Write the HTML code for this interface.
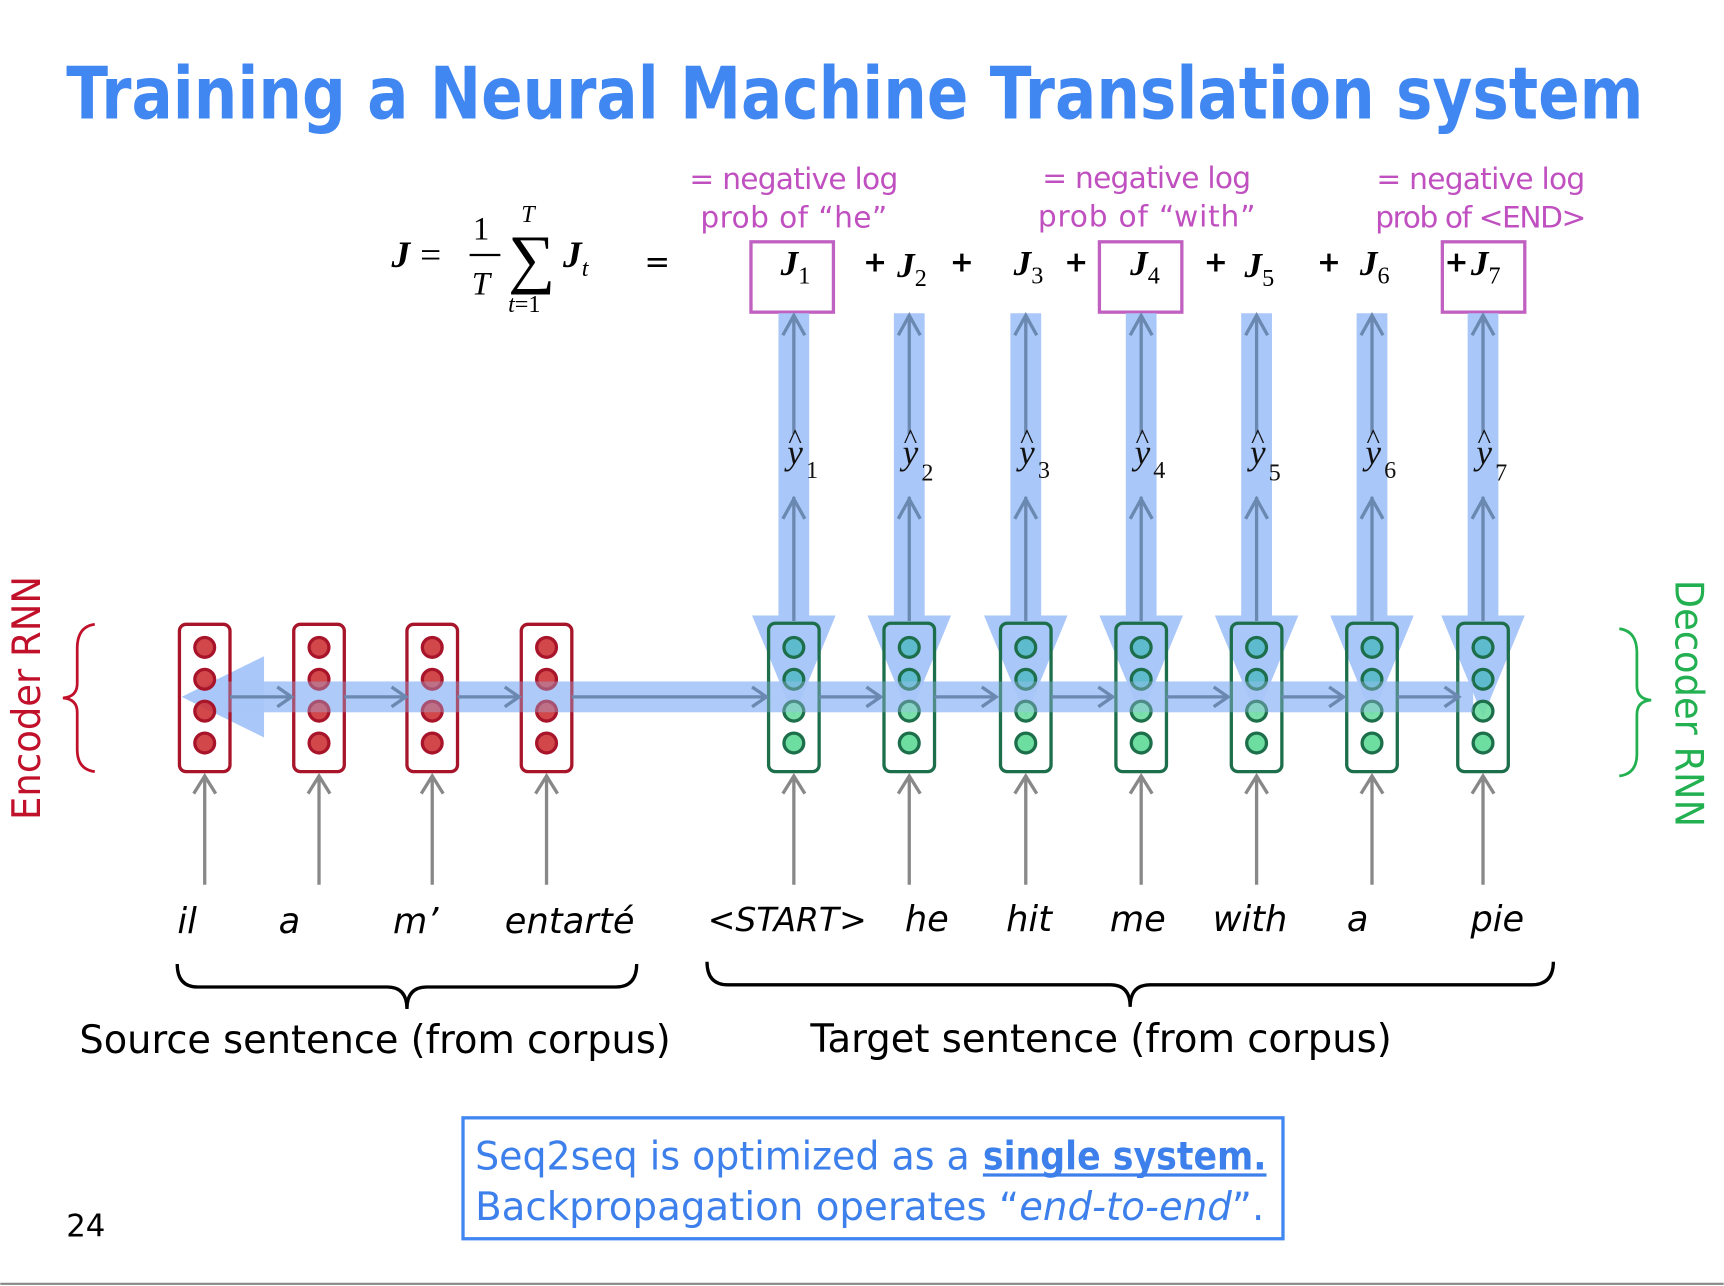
<!DOCTYPE html>
<html><head><meta charset="utf-8"><style>
html,body{margin:0;padding:0;background:#fff;}
svg{display:block;}
.m{font-family:"Liberation Serif",serif;}
.s{font-family:"DejaVu Sans","Liberation Sans",sans-serif;}
</style></head><body>
<svg width="1724" height="1286" viewBox="0 0 1568 1170" xmlns="http://www.w3.org/2000/svg">
<text x="60" y="108" font-family="'DejaVu Sans','Liberation Sans',sans-serif" font-weight="bold" font-size="66" fill="#4187f2" textLength="1435" lengthAdjust="spacingAndGlyphs">Training a Neural Machine Translation system</text>

<g class="m" font-size="34" fill="#000">
<text x="356" y="243" font-style="italic" font-weight="bold">J</text>
<text x="382" y="243">=</text>
<text x="430" y="218" font-size="30">1</text>
<line x1="427" y1="232" x2="455" y2="232" stroke="#000" stroke-width="2"/>
<text x="429" y="268" font-style="italic" font-size="30">T</text>
<text x="462" y="255" font-size="60">∑</text>
<text x="474" y="202" font-style="italic" font-size="22">T</text>
<text x="462" y="284" font-size="22"><tspan font-style="italic">t</tspan>=1</text>
<text x="512" y="243" font-style="italic" font-weight="bold">J<tspan font-size="22" dy="8" font-weight="normal">t</tspan></text>
<text x="586" y="248" class="s" font-size="28">=</text>
</g>
<g fill="none" stroke="#c060c0" stroke-width="3">
<rect x="683" y="220" width="75" height="64"/>
<rect x="1000" y="220" width="75" height="64"/>
<rect x="1312" y="220" width="75" height="64"/>
</g>
<g class="m" font-size="32" font-style="italic" font-weight="bold">
<text x="710" y="250">J<tspan font-size="22" dy="8" font-style="normal" font-weight="normal">1</tspan></text>
<text x="816" y="252">J<tspan font-size="22" dy="8" font-style="normal" font-weight="normal">2</tspan></text>
<text x="922" y="250">J<tspan font-size="22" dy="8" font-style="normal" font-weight="normal">3</tspan></text>
<text x="1028" y="250">J<tspan font-size="22" dy="8" font-style="normal" font-weight="normal">4</tspan></text>
<text x="1132" y="252">J<tspan font-size="22" dy="8" font-style="normal" font-weight="normal">5</tspan></text>
<text x="1237" y="250">J<tspan font-size="22" dy="8" font-style="normal" font-weight="normal">6</tspan></text>
<text x="1338" y="250">J<tspan font-size="22" dy="8" font-style="normal" font-weight="normal">7</tspan></text>
</g>
<g class="s" font-size="26" font-weight="bold">
<text x="785" y="247">+</text><text x="864" y="247">+</text><text x="968" y="247">+</text>
<text x="1095" y="247">+</text><text x="1198" y="247">+</text><text x="1314" y="247">+</text>
</g>
<g class="s" font-size="27" fill="#c050c0" text-anchor="middle">
<text x="722" y="172" textLength="190">= negative log</text><text x="722" y="207" textLength="170">prob of “he”</text>
<text x="1043" y="171" textLength="190">= negative log</text><text x="1043" y="206" textLength="198">prob of “with”</text>
<text x="1347" y="172" textLength="190">= negative log</text><text x="1347" y="207" textLength="192">prob of &lt;END&gt;</text>
</g>

<rect x="205" y="620" width="1135" height="28" fill="#a9c7f8" opacity="0.9"/>
<polygon points="165,634 240,597 240,671" fill="#a9c7f8"/>

<g fill="#a9c7f8">
<g id="vb">
<rect x="708" y="285" width="28" height="278"/><polygon points="684,560 760,560 722,652"/>
</g>
<use href="#vb" x="105"/><use href="#vb" x="211"/><use href="#vb" x="316"/><use href="#vb" x="421"/><use href="#vb" x="526"/><use href="#vb" x="627"/>
</g>

<g stroke="#a8142a" stroke-width="3">
<g id="ec">
<rect x="163" y="568" width="46" height="134" rx="6" fill="none"/>
<g fill="#cc3336" fill-opacity="0.9"><circle cx="186" cy="589" r="9"/><circle cx="186" cy="618" r="9"/><circle cx="186" cy="647" r="9"/><circle cx="186" cy="676" r="9"/></g>
</g>
<use href="#ec" x="104"/><use href="#ec" x="207"/><use href="#ec" x="311"/>
</g>
<g stroke="#1d6e4a" stroke-width="3">
<g id="dc">
<rect x="699" y="567" width="46" height="135" rx="6" fill="none"/>
<circle cx="722" cy="589" r="9" fill="#55b8c8" fill-opacity="0.9"/><circle cx="722" cy="618" r="9" fill="#55b8c8" fill-opacity="0.9"/>
<circle cx="722" cy="647" r="9" fill="#6ddda0" fill-opacity="0.9"/><circle cx="722" cy="676" r="9" fill="#6ddda0"/>
</g>
<use href="#dc" x="105"/><use href="#dc" x="211"/><use href="#dc" x="316"/><use href="#dc" x="421"/><use href="#dc" x="526"/><use href="#dc" x="627"/>
</g>
<rect x="205" y="620" width="1135" height="28" fill="#a9c7f8" opacity="0.35"/>

<g stroke="#6a88b0" stroke-width="3" fill="none">
<g id="ha"><line x1="209" y1="634" x2="264" y2="634"/><polyline points="252,625 265,634 252,643"/></g>
<use href="#ha" x="104"/><use href="#ha" x="207"/>
<line x1="520" y1="634" x2="696" y2="634"/><polyline points="684,625 697,634 684,643"/>
<use href="#ha" x="536"/><use href="#ha" x="641"/><use href="#ha" x="747"/><use href="#ha" x="852"/><use href="#ha" x="957"/><use href="#ha" x="1062"/>
</g>
<g stroke="#6a88b0" stroke-width="3" fill="none">
<g id="vl">
<line x1="722" y1="565" x2="722" y2="452"/><line x1="722" y1="395" x2="722" y2="287"/>
<polyline points="712,305 722,287 732,305"/><polyline points="712,472 722,454 732,472"/>
</g>
<use href="#vl" x="105"/><use href="#vl" x="211"/><use href="#vl" x="316"/><use href="#vl" x="421"/><use href="#vl" x="526"/><use href="#vl" x="627"/>
</g>
<g class="m" font-size="32" font-style="italic" fill="#111">
<text x="716" y="422">y</text><text x="717" y="408" font-style="normal" font-size="26">^</text><text x="733" y="435" font-style="normal" font-size="22">1</text>
<text x="821" y="422">y</text><text x="822" y="408" font-style="normal" font-size="26">^</text><text x="838" y="437" font-style="normal" font-size="22">2</text>
<text x="927" y="422">y</text><text x="928" y="408" font-style="normal" font-size="26">^</text><text x="944" y="435" font-style="normal" font-size="22">3</text>
<text x="1032" y="422">y</text><text x="1033" y="408" font-style="normal" font-size="26">^</text><text x="1049" y="435" font-style="normal" font-size="22">4</text>
<text x="1137" y="422">y</text><text x="1138" y="408" font-style="normal" font-size="26">^</text><text x="1154" y="437" font-style="normal" font-size="22">5</text>
<text x="1242" y="422">y</text><text x="1243" y="408" font-style="normal" font-size="26">^</text><text x="1259" y="435" font-style="normal" font-size="22">6</text>
<text x="1343" y="422">y</text><text x="1344" y="408" font-style="normal" font-size="26">^</text><text x="1360" y="437" font-style="normal" font-size="22">7</text>
</g>

<g stroke="#888" stroke-width="3" fill="none">
<g id="ia"><line x1="186" y1="805" x2="186" y2="706"/><polyline points="176,722 186,706 196,722"/></g>
<use href="#ia" x="104"/><use href="#ia" x="207"/><use href="#ia" x="311"/>
<use href="#ia" x="536"/><use href="#ia" x="641"/><use href="#ia" x="747"/><use href="#ia" x="852"/><use href="#ia" x="957"/><use href="#ia" x="1062"/><use href="#ia" x="1163"/>
</g>

<g class="s" font-size="32" font-style="italic" fill="#000" text-anchor="middle">
<text x="170" y="849">il</text><text x="263" y="849">a</text><text x="378" y="849">m’</text><text x="518" y="849" textLength="118">entarté</text>
<text x="716" y="847" font-size="30">&lt;START&gt;</text><text x="843" y="847">he</text><text x="936" y="847">hit</text><text x="1035" y="847">me</text>
<text x="1137" y="847">with</text><text x="1235" y="847">a</text><text x="1362" y="847">pie</text>
</g>
<g fill="none" stroke="#000" stroke-width="3">
<path d="M161,877 Q161,898 180,898 L352,898 Q370,898 370,918 Q370,898 388,898 L560,898 Q579,898 579,877"/>
<path d="M643,875 Q643,896 662,896 L1010,896 Q1028,896 1028,916 Q1028,896 1046,896 L1393,896 Q1413,896 1413,875"/>
</g>
<g class="s" font-size="36" fill="#000">
<text x="72" y="958" textLength="538" lengthAdjust="spacingAndGlyphs">Source sentence (from corpus)</text>
<text x="737" y="957" textLength="529" lengthAdjust="spacingAndGlyphs">Target sentence (from corpus)</text>
</g>
<text class="s" font-size="36" fill="#c0102a" transform="translate(36,635) rotate(-90)" text-anchor="middle" textLength="222" lengthAdjust="spacingAndGlyphs">Encoder RNN</text>
<text class="s" font-size="36" fill="#22b050" transform="translate(1524,640) rotate(90)" text-anchor="middle" textLength="225" lengthAdjust="spacingAndGlyphs">Decoder RNN</text>
<path d="M86,568 Q70,570 70,590 L70,622 Q70,634 57,635 Q70,636 70,648 L70,682 Q70,700 86,702" fill="none" stroke="#c0102a" stroke-width="2.5"/>
<path d="M1473,572 Q1489,574 1489,594 L1489,624 Q1489,636 1502,637 Q1489,638 1489,650 L1489,686 Q1489,704 1473,706" fill="none" stroke="#22b050" stroke-width="2.5"/>

<rect x="421" y="1017" width="746" height="110" fill="none" stroke="#4187f2" stroke-width="3"/>
<g class="s" font-size="36" fill="#3d80ec">
<text x="432" y="1064" textLength="450" lengthAdjust="spacingAndGlyphs">Seq2seq is optimized as a</text>
<text x="894" y="1064" font-weight="bold" textLength="258" lengthAdjust="spacingAndGlyphs">single system.</text>
<text x="432" y="1110" textLength="718" lengthAdjust="spacingAndGlyphs">Backpropagation operates “<tspan font-style="italic">end-to-end</tspan>”.</text>
</g>
<line x1="894" y1="1069" x2="1152" y2="1069" stroke="#3d80ec" stroke-width="3"/>
<text class="s" x="60" y="1125" font-size="28" fill="#000">24</text>
<line x1="0" y1="1168" x2="1568" y2="1168" stroke="#888" stroke-width="2"/>
</svg>
</body></html>
